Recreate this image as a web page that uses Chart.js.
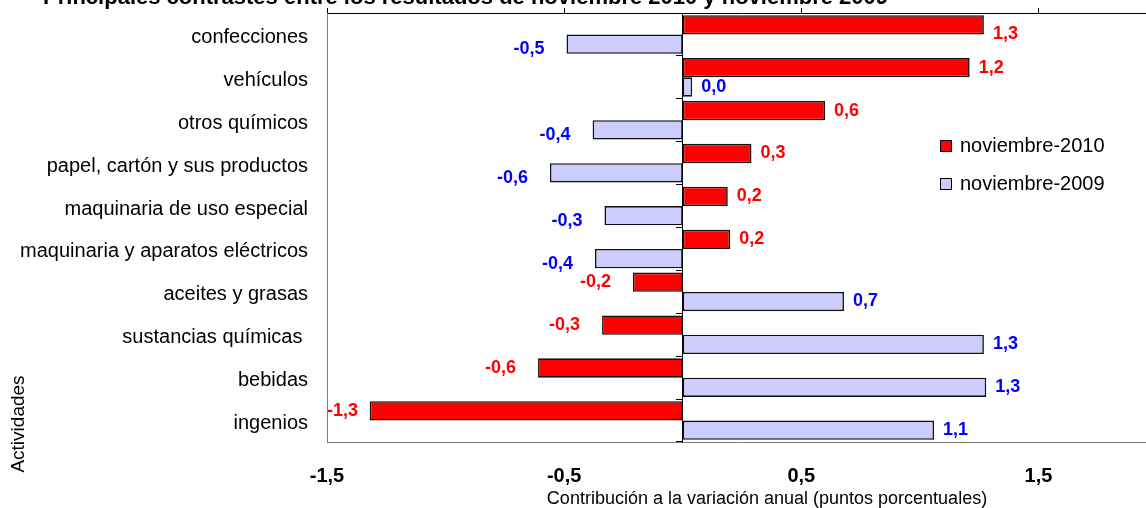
<!DOCTYPE html>
<html><head><meta charset="utf-8">
<script src="https://cdn.jsdelivr.net/npm/chart.js@4.4.1/dist/chart.umd.min.js"></script>
<style>
html,body{margin:0;padding:0;background:#fff;overflow:hidden;width:1146px;height:508px}
#wrap{position:absolute;left:0;top:0;width:1160px;height:508px}
</style>
</head><body><div id="wrap"><canvas id="c" width="1160" height="508"></canvas></div>
<script>
const categories = ['confecciones','vehículos','otros químicos','papel, cartón y sus productos','maquinaria de uso especial','maquinaria y aparatos eléctricos','aceites y grasas','sustancias químicas ','bebidas','ingenios'];
const series2010 = [1.27, 1.21, 0.60, 0.29, 0.19, 0.20, -0.21, -0.34, -0.61, -1.32];
const series2009 = [-0.49, 0.04, -0.38, -0.56, -0.33, -0.37, 0.68, 1.27, 1.28, 1.06];
const seriesNames = ['noviembre-2010', 'noviembre-2009'];
const xTickValues = [-1.5, -0.5, 0.5, 1.5];
const xTickLabels = ['-1,5', '-0,5', '0,5', '1,5'];
const titleText = 'Principales contrastes entre los resultados de noviembre 2010 y noviembre 2009';
const xTitleText = 'Contribución a la variación anual (puntos porcentuales)';
const yTitleText = 'Actividades';

const FONT = '"Liberation Sans", Arial, sans-serif';
const fmt = v => v.toFixed(1).replace('.', ',');
const noPad = s => { s.paddingTop = 0; s.paddingBottom = 0; s.paddingLeft = 0; s.paddingRight = 0; };

const textPlugin = {
  id: 'texts',
  afterDraw(chart) {
    const ctx = chart.ctx, ca = chart.chartArea;
    ctx.save();
    ctx.fillStyle = '#000';
    ctx.font = 'bold 22px ' + FONT;
    ctx.textAlign = 'right'; ctx.textBaseline = 'alphabetic';
    ctx.fillText(titleText, 888, 4);
    ctx.font = '18px ' + FONT;
    ctx.textAlign = 'center'; ctx.textBaseline = 'middle';
    ctx.fillText(xTitleText, 767, 499);
    ctx.save();
    ctx.translate(19, 424); ctx.rotate(-Math.PI / 2);
    ctx.font = '19px ' + FONT;
    ctx.fillText(yTitleText, 0, 0);
    ctx.restore();
    chart.data.datasets.forEach((ds, i) => {
      const cy = 146 + i * 38;
      ctx.fillStyle = ds.backgroundColor;
      ctx.fillRect(940, cy - 6, 12, 12);
      ctx.strokeStyle = '#000'; ctx.lineWidth = 1;
      ctx.strokeRect(940.5, cy - 5.5, 11, 11);
      ctx.fillStyle = '#000';
      ctx.font = '20px ' + FONT;
      ctx.textAlign = 'left'; ctx.textBaseline = 'middle';
      ctx.fillText(ds.label, 960, cy);
    });
    ctx.font = 'bold 18px ' + FONT;
    ctx.textBaseline = 'middle';
    chart.data.datasets.forEach((ds, i) => {
      const meta = chart.getDatasetMeta(i);
      ctx.fillStyle = ds.labelColor;
      meta.data.forEach((bar, j) => {
        const v = ds.data[j];
        const txt = fmt(v);
        const w = ctx.measureText(txt).width;
        let x, y = bar.y;
        if (v >= 0) { x = bar.x + 9; ctx.textAlign = 'left'; }
        else {
          x = bar.x - 22; ctx.textAlign = 'right';
          if (x - w < ca.left) x = ca.left + w;
          if (i === 1) y += 5;
        }
        if (y - 12 < ca.top) y += 9;
        ctx.fillText(txt, x, y);
      });
    });
    ctx.restore();
  }
};

new Chart(document.getElementById('c'), {
  type: 'bar',
  data: {
    labels: categories,
    datasets: [
      { label: seriesNames[0], data: series2010, backgroundColor: '#FF0000', borderColor: '#111', borderWidth: 1.6, borderSkipped: false, labelColor: '#FF0000', xAxisID: 'x', yAxisID: 'y' },
      { label: seriesNames[1], data: series2009, backgroundColor: '#CCCCFF', borderColor: '#111', borderWidth: 1.6, borderSkipped: false, labelColor: '#0000FF', xAxisID: 'x', yAxisID: 'y' }
    ]
  },
  options: {
    indexAxis: 'y',
    responsive: false,
    animation: false,
    devicePixelRatio: 1,
    categoryPercentage: 0.9,
    barPercentage: 1.0,
    layout: { padding: { top: 13, right: 3, left: 0, bottom: 0 } },
    plugins: { legend: { display: false }, tooltip: { enabled: false }, title: { display: false } },
    scales: {
      x: {
        type: 'linear', position: 'bottom', min: -1.5, max: 2.0,
        afterBuildTicks: s => { s.ticks = xTickValues.map(v => ({ value: v })); },
        afterFit: s => { s.height = 66; noPad(s); },
        ticks: { autoSkip: false, maxRotation: 0, padding: 22, color: '#000', font: { family: FONT, size: 20, weight: 'bold' }, callback: (v, i) => xTickLabels[i] },
        grid: { display: false, drawTicks: false },
        border: { display: true, color: '#808080', width: 1 }
      },
      x2: {
        type: 'linear', position: 'top', min: -1.5, max: 2.0,
        afterBuildTicks: s => { s.ticks = xTickValues.map(v => ({ value: v })); },
        afterFit: s => { s.height = 0; noPad(s); },
        ticks: { display: false },
        grid: { display: true, drawOnChartArea: false, drawTicks: true, tickLength: 5, color: '#000', lineWidth: 1 },
        border: { display: true, color: '#000', width: 1 }
      },
      y: {
        type: 'category', position: 'left',
        afterFit: s => { s.width = 327; noPad(s); },
        ticks: { padding: 19, labelOffset: 3, color: '#000', font: { family: FONT, size: 20 } },
        grid: { display: false, drawTicks: false },
        border: { display: true, color: '#808080', width: 1 }
      },
      y2: {
        type: 'category', position: { x: 0 }, offset: true,
        labels: categories,
        afterFit: s => { s.width = 0; noPad(s); },
        ticks: { display: false },
        grid: { display: true, offset: true, drawOnChartArea: false, drawTicks: true, tickLength: 6, color: '#000', lineWidth: 1 },
        border: { display: true, color: '#000', width: 1 }
      }
    }
  },
  plugins: [textPlugin]
});
</script>
</body></html>
